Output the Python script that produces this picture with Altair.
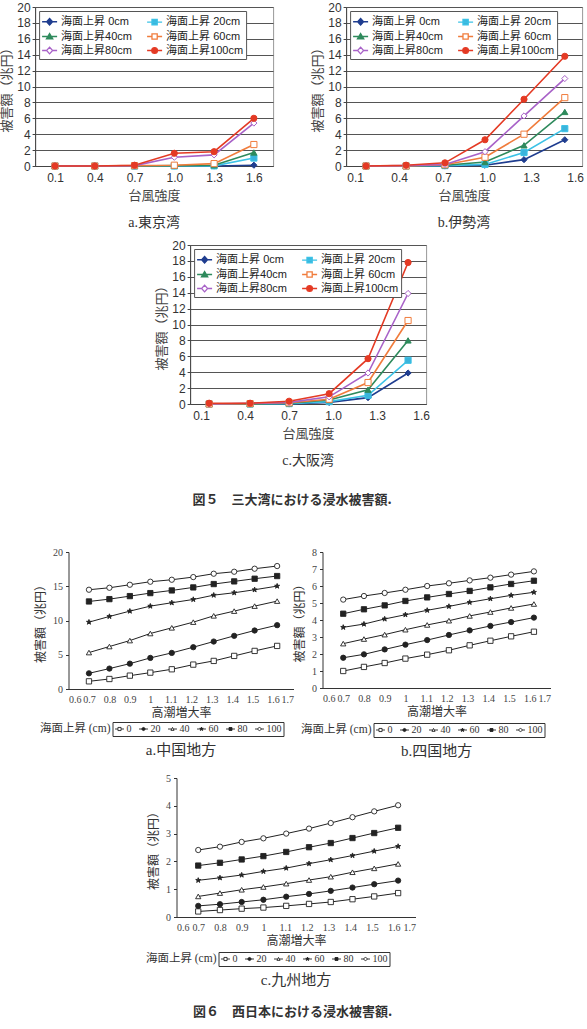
import altair as alt
import pandas as pd

SANS = "Liberation Sans, Arial, Noto Sans CJK JP"
SERIF = "Liberation Serif, DejaVu Serif, Noto Sans CJK JP"
GOTHIC = "Noto Sans CJK JP"

# ---------------- Figure 5 : three bays ----------------
SERIES5 = ["海面上昇 0cm", "海面上昇 20cm", "海面上昇40cm",
           "海面上昇 60cm", "海面上昇80cm", "海面上昇100cm"]
LINE5 = ["#1f3d8f", "#3cc2e6", "#2e8a5c", "#f07c3c", "#a862c8", "#e43a24"]
FILL5 = ["#1f3d8f", "#3ab4dc", "#2e8a5c", "#ffffff", "#ffffff", "#e43a24"]
SHAPE5 = ["diamond", "square", "triangle-up", "square", "diamond", "circle"]
# legend glyphs: marker with the series line running through it
LEGSHAPE5 = [
    "M-1,0H1M0,-0.45L0.4,0L0,0.45L-0.4,0Z",
    "M-1,0H1M-0.35,-0.35H0.35V0.35H-0.35Z",
    "M-1,0H1M0,-0.4L0.42,0.32L-0.42,0.32Z",
    "M-1,0H-0.35M0.35,0H1M-0.35,-0.35H0.35V0.35H-0.35Z",
    "M-1,0H-0.4M0.4,0H1M0,-0.45L0.4,0L0,0.45L-0.4,0Z",
    "M-1,0H1M0.38,0A0.38,0.38 0 1,1 -0.38,0A0.38,0.38 0 1,1 0.38,0Z",
]
X5_TICKS = [0.1, 0.4, 0.7, 1.0, 1.3, 1.6]
Y5_TICKS = [0, 2, 4, 6, 8, 10, 12, 14, 16, 18, 20]

# a. Tokyo Bay
TOKYO_X = [0.1, 0.4, 0.7, 1.0, 1.3, 1.6]
TOKYO_0 = [0, 0, 0, 0, 0, 0.1]
TOKYO_20 = [0, 0, 0, 0, 0.02, 1.0]
TOKYO_40 = [0, 0, 0, 0.05, 0.1, 1.7]
TOKYO_60 = [0, 0, 0.05, 0.1, 0.3, 2.7]
TOKYO_80 = [0, 0, 0.05, 1.1, 1.4, 5.4]
TOKYO_100 = [0, 0, 0.1, 1.6, 1.8, 6.0]

# b. Ise Bay
ISE_X = [0.175, 0.448, 0.713, 0.986, 1.252, 1.53]
ISE_0 = [0, 0, 0, 0.1, 0.8, 3.3]
ISE_20 = [0, 0, 0.05, 0.2, 1.7, 4.7]
ISE_40 = [0, 0, 0.1, 0.5, 2.6, 6.8]
ISE_60 = [0, 0, 0.15, 1.1, 4.0, 8.6]
ISE_80 = [0, 0.05, 0.2, 1.8, 6.3, 11.0]
ISE_100 = [0, 0.1, 0.4, 3.3, 8.4, 13.8]

# c. Osaka Bay
OSAKA_X = [0.155, 0.434, 0.70, 0.973, 1.238, 1.511]
OSAKA_0 = [0, 0, 0, 0.2, 0.8, 3.9]
OSAKA_20 = [0, 0, 0.05, 0.3, 1.1, 5.5]
OSAKA_40 = [0, 0, 0.1, 0.5, 1.8, 8.0]
OSAKA_60 = [0, 0.05, 0.15, 0.6, 2.7, 10.5]
OSAKA_80 = [0, 0.1, 0.2, 0.9, 3.9, 13.9]
OSAKA_100 = [0.1, 0.1, 0.35, 1.3, 5.7, 17.8]

CAPTION5 = ["a.東京湾", "b.伊勢湾", "c.大阪湾"]
FIG5_TITLE = "図５　三大湾における浸水被害額."

# ---------------- Figure 6 : western Japan ----------------
SERIES6 = ["0", "20", "40", "60", "80", "100"]
STAR = ("M0,-1L0.235,-0.324L0.951,-0.309L0.38,0.124L0.588,0.809L0,0.4"
        "L-0.588,0.809L-0.38,0.124L-0.951,-0.309L-0.235,-0.324Z")
SHAPE6 = ["square", "circle", "triangle-up", STAR, "square", "circle"]
LEGSHAPE6 = [
    "M-1,0H-0.35M0.35,0H1M-0.35,-0.35H0.35V0.35H-0.35Z",
    "M-1,0H1M0.35,0A0.35,0.35 0 1,1 -0.35,0A0.35,0.35 0 1,1 0.35,0Z",
    "M-1,0H-0.19M0.19,0H1M0,-0.35L0.35,0.3L-0.35,0.3Z",
    "M-1,0H1M0,-0.42L0.1,-0.14L0.4,-0.13L0.16,0.05L0.25,0.34L0,0.17"
    "L-0.25,0.34L-0.16,0.05L-0.4,-0.13L-0.1,-0.14Z",
    "M-1,0H1M-0.33,-0.33H0.33V0.33H-0.33Z",
    "M-1,0H-0.35M0.35,0H1M0.35,0A0.35,0.35 0 1,1 -0.35,0A0.35,0.35 0 1,1 0.35,0Z",
]
FILL6 = ["#ffffff", "#222222", "#ffffff", "#222222", "#222222", "#ffffff"]
STROKE6 = ["#222222"] * 6
X6_TICKS = [0.6, 0.7, 0.8, 0.9, 1.0, 1.1, 1.2, 1.3, 1.4, 1.5, 1.6, 1.7]
X6 = [0.70, 0.80, 0.90, 1.00, 1.105, 1.21, 1.31, 1.41, 1.51, 1.62]

# a. Chugoku
CHUGOKU_0 = [1.12, 1.46, 1.95, 2.39, 2.88, 3.56, 4.10, 4.83, 5.56, 6.29]
CHUGOKU_20 = [2.29, 2.98, 3.70, 4.54, 5.27, 6.10, 6.93, 7.76, 8.54, 9.32]
CHUGOKU_40 = [5.32, 6.20, 7.07, 8.10, 8.93, 9.76, 10.68, 11.37, 12.10, 12.83]
CHUGOKU_60 = [9.76, 10.59, 11.37, 12.10, 12.59, 13.07, 13.70, 14.05, 14.49, 15.02]
CHUGOKU_80 = [12.78, 13.12, 13.56, 14.00, 14.39, 14.83, 15.32, 15.71, 16.10, 16.49]
CHUGOKU_100 = [14.49, 14.78, 15.22, 15.66, 15.95, 16.34, 16.83, 17.12, 17.56, 17.95]

# b. Shikoku
SHIKOKU_0 = [1.00, 1.24, 1.47, 1.73, 1.96, 2.22, 2.51, 2.78, 3.04, 3.31]
SHIKOKU_20 = [1.78, 1.98, 2.27, 2.55, 2.82, 3.12, 3.39, 3.65, 3.88, 4.14]
SHIKOKU_40 = [2.61, 2.88, 3.14, 3.43, 3.71, 3.96, 4.24, 4.47, 4.71, 4.94]
SHIKOKU_60 = [3.57, 3.76, 4.06, 4.31, 4.57, 4.80, 5.04, 5.25, 5.45, 5.63]
SHIKOKU_80 = [4.37, 4.63, 4.86, 5.12, 5.33, 5.53, 5.71, 5.92, 6.12, 6.31]
SHIKOKU_100 = [5.20, 5.41, 5.59, 5.78, 6.00, 6.16, 6.33, 6.49, 6.67, 6.86]

# c. Kyushu
KYUSHU_0 = [0.20, 0.25, 0.30, 0.34, 0.40, 0.47, 0.54, 0.64, 0.74, 0.86]
KYUSHU_20 = [0.40, 0.46, 0.54, 0.62, 0.73, 0.83, 0.94, 1.06, 1.18, 1.31]
KYUSHU_40 = [0.74, 0.86, 0.98, 1.08, 1.20, 1.33, 1.45, 1.61, 1.75, 1.91]
KYUSHU_60 = [1.32, 1.41, 1.51, 1.64, 1.76, 1.92, 2.06, 2.21, 2.37, 2.54]
KYUSHU_80 = [1.85, 1.95, 2.07, 2.19, 2.34, 2.51, 2.66, 2.84, 3.02, 3.21]
KYUSHU_100 = [2.41, 2.53, 2.70, 2.83, 3.00, 3.18, 3.38, 3.59, 3.80, 4.02]

CAPTION6 = ["a.中国地方", "b.四国地方", "c.九州地方"]
LEGEND6_TITLE = "海面上昇 (cm)"
FIG6_TITLE = "図６　西日本における浸水被害額."

INDEP = dict(stroke="independent", fill="independent", shape="independent",
             x="independent", y="independent")
LAYER_INDEP = dict(stroke="independent", fill="independent", shape="independent")


def long_df(xs, series_names, series_vals):
    rows = []
    for name, vals in zip(series_names, series_vals):
        for x, v in zip(xs, vals):
            rows.append({"x": x, "v": v, "s": name})
    return pd.DataFrame(rows)


def spacer(w):
    return alt.Chart(pd.DataFrame({"a": [0]})).mark_point(opacity=0, size=0).encode(
        x=alt.value(0), y=alt.value(0)).properties(width=w, height=10)


def bay_panel(xs, vals, domain, caption, width, height):
    df = long_df(xs, SERIES5, vals)
    base = alt.Chart(df).encode(
        x=alt.X("x:Q", scale=alt.Scale(domain=domain, nice=False, zero=False),
                axis=alt.Axis(values=X5_TICKS, format=".1f", title="台風強度",
                              grid=False, ticks=False, labelFont=SANS,
                              labelFontSize=12, labelColor="#333", labelPadding=6,
                              titleFont=SERIF, titleFontSize=13,
                              titleFontWeight="normal", titleColor="#444",
                              titlePadding=6, domainColor="#444")),
        y=alt.Y("v:Q", scale=alt.Scale(domain=[0, 20], nice=False),
                axis=alt.Axis(values=Y5_TICKS, title="被害額（兆円）", grid=True,
                              gridColor="#555", gridWidth=1, tickSize=3,
                              tickColor="#444", labelFont=SANS, labelFontSize=12,
                              labelColor="#333", labelPadding=2,
                              titleFont=SERIF, titleFontSize=13,
                              titleFontWeight="normal", titleColor="#444",
                              titlePadding=3, domainColor="#444")),
    )
    leg = alt.Legend(title=None, orient="top-left", direction="horizontal",
                     columns=2, offset=4,
                     fillColor="white", strokeColor="#555", padding=2,
                     labelFont=SANS, labelFontSize=11, labelColor="#222",
                     symbolSize=225, symbolStrokeWidth=1.3, rowPadding=-1,
                     columnPadding=12, labelOffset=3, labelLimit=200)
    line_sc = alt.Scale(domain=SERIES5, range=LINE5)
    fill_sc = alt.Scale(domain=SERIES5, range=FILL5)
    lines = base.mark_line(strokeWidth=1.6).encode(
        stroke=alt.Stroke("s:N", scale=line_sc, legend=None))
    pts = base.mark_point(filled=True, size=38, strokeWidth=1, opacity=1).encode(
        stroke=alt.Stroke("s:N", scale=line_sc, legend=None),
        fill=alt.Fill("s:N", scale=fill_sc, legend=None),
        shape=alt.Shape("s:N", scale=alt.Scale(domain=SERIES5, range=SHAPE5), legend=None),
    )
    keys = base.transform_filter("datum.v < -1").mark_point(
        filled=True, strokeWidth=1.3, opacity=1).encode(
        stroke=alt.Stroke("s:N", scale=line_sc, legend=leg),
        fill=alt.Fill("s:N", scale=fill_sc, legend=leg),
        shape=alt.Shape("s:N", scale=alt.Scale(domain=SERIES5, range=LEGSHAPE5), legend=leg),
    )
    return alt.layer(lines, pts, keys).resolve_scale(**LAYER_INDEP).properties(
        width=width, height=height,
        view=alt.ViewBackground(stroke="#999"),
        title=alt.TitleParams(caption, orient="bottom", frame="group",
                              font=SERIF, fontSize=14, fontWeight="normal",
                              color="#333", offset=14),
    )


def region_panel(vals, ymax, yticks, caption, width, height, lx, ly):
    df = long_df(X6, SERIES6, vals)
    base = alt.Chart(df).encode(
        x=alt.X("x:Q", scale=alt.Scale(domain=[0.6, 1.7], nice=False, zero=False),
                axis=alt.Axis(values=X6_TICKS, format="~g", title="高潮増大率",
                              grid=False, ticks=False, labelFont=SERIF,
                              labelFontSize=10, labelColor="#444", labelPadding=5,
                              titleFont=SERIF, titleFontSize=12,
                              titleFontWeight="normal", titleColor="#333",
                              titlePadding=3, domainColor="#333")),
        y=alt.Y("v:Q", scale=alt.Scale(domain=[0, ymax], nice=False),
                axis=alt.Axis(values=yticks, title="被害額（兆円）", grid=False,
                              tickSize=3, tickColor="#333", labelFont=SERIF,
                              labelFontSize=10, labelColor="#444", labelPadding=3,
                              titleFont=SERIF, titleFontSize=12,
                              titleFontWeight="normal", titleColor="#333",
                              titlePadding=5, domainColor="#333")),
    )
    leg = alt.Legend(title=None, orient="none", legendX=lx, legendY=ly,
                     direction="horizontal", strokeColor="#333", padding=2,
                     labelFont=SERIF, labelFontSize=10, labelColor="#333",
                     symbolSize=80, symbolStrokeWidth=0.9, gridAlign="none",
                     columnPadding=5, labelOffset=2)
    stroke_sc = alt.Scale(domain=SERIES6, range=STROKE6)
    fill_sc = alt.Scale(domain=SERIES6, range=FILL6)
    lines = base.mark_line(color="#222", strokeWidth=1).encode(detail="s:N")
    pts = base.mark_point(filled=True, size=28, strokeWidth=0.9, opacity=1).encode(
        stroke=alt.Stroke("s:N", scale=stroke_sc, legend=None),
        fill=alt.Fill("s:N", scale=fill_sc, legend=None),
        shape=alt.Shape("s:N", scale=alt.Scale(domain=SERIES6, range=SHAPE6), legend=None),
    )
    keys = base.transform_filter("datum.v < -1").mark_point(
        filled=True, strokeWidth=0.9, opacity=1).encode(
        stroke=alt.Stroke("s:N", scale=stroke_sc, legend=leg),
        fill=alt.Fill("s:N", scale=fill_sc, legend=leg),
        shape=alt.Shape("s:N", scale=alt.Scale(domain=SERIES6, range=LEGSHAPE6), legend=leg),
    )
    ttl = alt.Chart(pd.DataFrame({"t": [LEGEND6_TITLE]})).mark_text(
        align="right", baseline="middle", font=SERIF, fontSize=11.5, color="#333"
    ).encode(text="t:N", x=alt.value(lx - 2), y=alt.value(ly + 7))
    return alt.layer(lines, pts, keys, ttl).resolve_scale(**LAYER_INDEP).properties(
        width=width, height=height,
        title=alt.TitleParams(caption, orient="bottom", frame="group",
                              font=SERIF, fontSize=15, fontWeight="normal",
                              color="#333", offset=6),
    )


A = bay_panel(TOKYO_X, [TOKYO_0, TOKYO_20, TOKYO_40, TOKYO_60, TOKYO_80, TOKYO_100],
              [-0.05, 1.745], CAPTION5[0], 238, 159)
B = bay_panel(ISE_X, [ISE_0, ISE_20, ISE_40, ISE_60, ISE_80, ISE_100],
              [0.039, 1.648], CAPTION5[1], 236, 159)
C = bay_panel(OSAKA_X, [OSAKA_0, OSAKA_20, OSAKA_40, OSAKA_60, OSAKA_80, OSAKA_100],
              [0.025, 1.634], CAPTION5[2], 236, 159)

D = region_panel([CHUGOKU_0, CHUGOKU_20, CHUGOKU_40, CHUGOKU_60, CHUGOKU_80, CHUGOKU_100],
                 20, [0, 5, 10, 15, 20], CAPTION6[0], 225, 137, 44, 170)
E = region_panel([SHIKOKU_0, SHIKOKU_20, SHIKOKU_40, SHIKOKU_60, SHIKOKU_80, SHIKOKU_100],
                 8, [0, 1, 2, 3, 4, 5, 6, 7, 8], CAPTION6[1], 228, 136, 51, 171)
F = region_panel([KYUSHU_0, KYUSHU_20, KYUSHU_40, KYUSHU_60, KYUSHU_80, KYUSHU_100],
                 5, [0, 1, 2, 3, 4, 5], CAPTION6[2], 239, 139, 42, 174)

row5 = alt.hconcat(A, B, spacing=73, bounds="flush").resolve_scale(**INDEP)
rowC = alt.hconcat(spacer(120), C, spacing=0).resolve_scale(**INDEP)
fig5 = alt.vconcat(
    row5, rowC, spacing=7,
    title=alt.TitleParams(FIG5_TITLE, orient="bottom", anchor="middle", font=GOTHIC,
                          fontSize=13, fontWeight="bold", color="#333", offset=25),
).resolve_scale(**INDEP)

row6 = alt.hconcat(D, E, spacing=29, bounds="flush").resolve_scale(**INDEP)
rowF = alt.hconcat(spacer(77), F, spacing=0).resolve_scale(**INDEP)
fig6 = alt.vconcat(
    row6, rowF, spacing=14,
    title=alt.TitleParams(FIG6_TITLE, orient="bottom", anchor="middle", font=GOTHIC,
                          fontSize=13, fontWeight="bold", color="#333", offset=18),
).resolve_scale(**INDEP)

chart = alt.vconcat(fig5, fig6, spacing=40, center=True).resolve_scale(**INDEP).properties(
    padding={"left": 0, "top": 0, "right": 2, "bottom": 0},
    background="white",
).configure_view(stroke=None)

chart.save("out.html", embed_options={"renderer": "svg", "actions": False})
